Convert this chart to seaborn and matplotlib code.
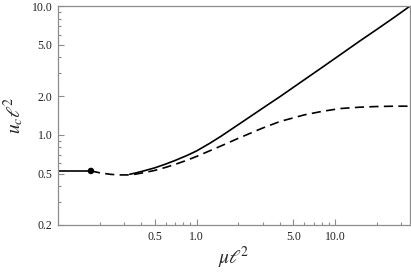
import numpy as np
import pandas as pd
import matplotlib
matplotlib.use("Agg")
import matplotlib.pyplot as plt
import matplotlib.ticker as mtick
import seaborn as sns

# flat branch up to the marked point
flat_x = [0.1, 0.173]
flat_y = [0.525, 0.525]
dot_x = [0.173]
dot_y = [0.525]

# solid branch
solid_x = [0.33, 0.36, 0.42, 0.5, 0.6, 0.7, 0.85, 1.0, 1.25, 1.5, 2.0, 3.0,
           4.0, 6.0, 8.0, 10.8, 15.0, 20.0, 27.0, 34.6]
solid_y = [0.495, 0.505, 0.527, 0.555, 0.594, 0.633, 0.691, 0.75, 0.862,
           0.975, 1.20, 1.61, 1.98, 2.68, 3.32, 4.16, 5.33, 6.58, 8.23, 9.96]

# dashed branch
dash_x = [0.173, 0.2, 0.24, 0.28, 0.32, 0.36, 0.42, 0.5, 0.6, 0.7, 0.85, 1.0,
          1.5, 2.0, 3.0, 4.0, 6.0, 8.0, 10.8, 15.0, 20.0, 27.0, 34.6]
dash_y = [0.525, 0.508, 0.494, 0.489, 0.489, 0.495, 0.51, 0.53, 0.56, 0.59,
          0.635, 0.68, 0.82, 0.94, 1.13, 1.27, 1.43, 1.52, 1.60, 1.64, 1.66,
          1.67, 1.67]

x_major = [0.5, 1.0, 5.0, 10.0]
x_labels = ["0.5", "1.0", "5.0", "10.0"]
y_major = [0.2, 0.5, 1.0, 2.0, 5.0, 10.0]
y_labels = ["0.2", "0.5", "1.0", "2.0", "5.0", "10.0"]

sns.set_style("white")
plt.rcParams['font.family'] = ['Liberation Serif', 'DejaVu Serif']
plt.rcParams['mathtext.fontset'] = 'stix'

fig, ax = plt.subplots(figsize=(4.11, 2.74), dpi=100)
fig.subplots_adjust(left=0.141, right=0.997, bottom=0.179, top=0.978)

sns.lineplot(x=flat_x, y=flat_y, ax=ax, color='black', lw=1.2, sort=False)
sns.lineplot(x=solid_x, y=solid_y, ax=ax, color='black', lw=1.2, sort=False)
sns.lineplot(x=dash_x, y=dash_y, ax=ax, color='black', lw=1.2, sort=False,
             linestyle=(0, (5.5, 3.2)))
sns.scatterplot(x=dot_x, y=dot_y, ax=ax, color='black', s=22, zorder=5,
                edgecolor='none')

ax.set_xscale('log')
ax.set_yscale('log')
ax.set_xlim(0.1, 34.6)
ax.set_ylim(0.2, 10.0)

ax.xaxis.set_major_locator(mtick.FixedLocator(x_major))
ax.xaxis.set_major_formatter(mtick.FixedFormatter(x_labels))
ax.xaxis.set_minor_locator(mtick.LogLocator(base=10, subs=np.arange(2, 10), numticks=20))
ax.xaxis.set_minor_formatter(mtick.NullFormatter())
ax.yaxis.set_major_locator(mtick.FixedLocator(y_major))
ax.yaxis.set_major_formatter(mtick.FixedFormatter(y_labels))
ax.yaxis.set_minor_locator(mtick.LogLocator(base=10, subs=np.arange(2, 10), numticks=20))
ax.yaxis.set_minor_formatter(mtick.NullFormatter())

frame = '#8c8c8c'
for sp in ax.spines.values():
    sp.set_color(frame)
    sp.set_linewidth(0.9)
ax.tick_params(which='both', direction='in', color=frame, width=0.8,
               labelsize=8.5, labelcolor='#222222', top=False, right=False,
               bottom=True, left=True)
ax.tick_params(which='major', length=4, pad=4)
ax.tick_params(which='minor', length=2)

ax.set_xlabel(r'$\mu\ell^{\!2}$', fontsize=14, labelpad=2)
ax.set_ylabel(r'$u_c\ell^{\!2}$', fontsize=14, labelpad=4)

fig.savefig('out.png', dpi=100)
